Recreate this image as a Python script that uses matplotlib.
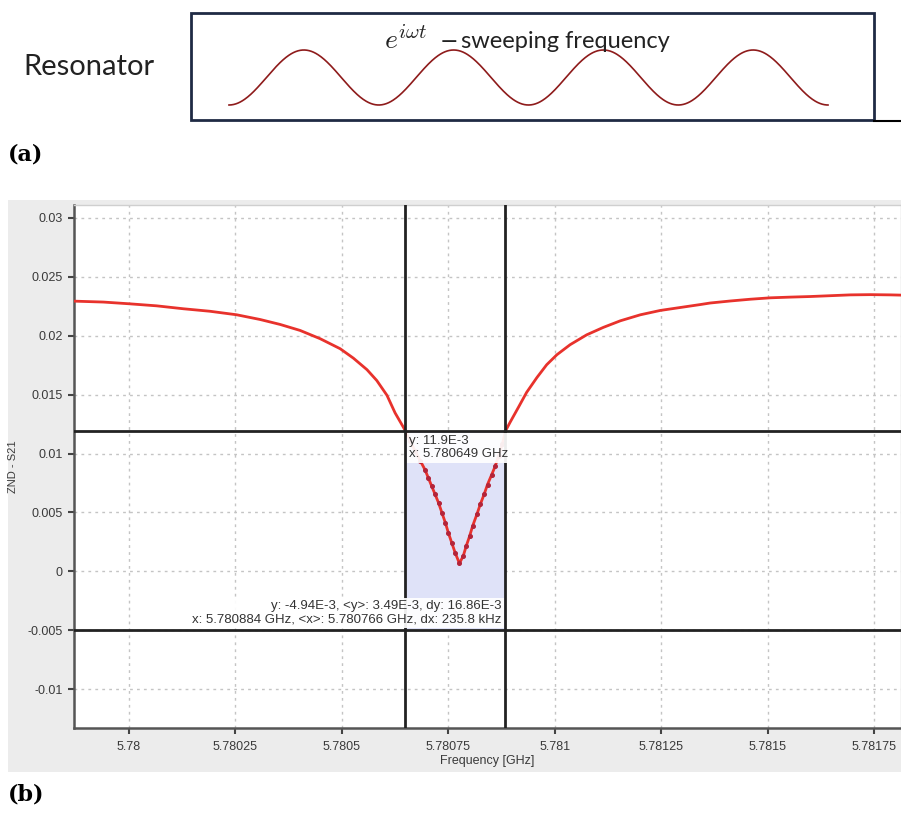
import numpy as np
import matplotlib
matplotlib.use("Agg")
import matplotlib.pyplot as plt
from matplotlib.patches import Rectangle
from matplotlib.lines import Line2D

# ---- data ----
freq_ghz = [5.779869, 5.779940, 5.780002, 5.780065, 5.780128, 5.780190, 5.780253,
            5.780308, 5.780355, 5.780402, 5.780449, 5.780496, 5.780527, 5.780559,
            5.780582, 5.780606, 5.780625, 5.780645, 5.780649,
            5.780660, 5.780672, 5.780684,
            5.780695, 5.780703, 5.780711, 5.780719, 5.780727, 5.780735, 5.780743,
            5.780750, 5.780758, 5.780766, 5.780776, 5.780785, 5.780792, 5.780800,
            5.780807, 5.780817, 5.780825, 5.780834, 5.780842, 5.780852, 5.780860,
            5.780868, 5.780877, 5.780884,
            5.780895, 5.780915, 5.780934, 5.780958, 5.780981, 5.781005, 5.781036,
            5.781075, 5.781114, 5.781154, 5.781201, 5.781248, 5.781295, 5.781342,
            5.781365, 5.781412, 5.781459, 5.781506, 5.781553, 5.781600, 5.781647,
            5.781694, 5.781741, 5.781788, 5.781812]
s21 = [0.02294, 0.02286, 0.02271, 0.02254, 0.02229, 0.02208, 0.02178,
       0.02138, 0.02096, 0.02045, 0.01975, 0.01890, 0.01810, 0.01712,
       0.01620, 0.01494, 0.01345, 0.01220, 0.01190,
       0.01110, 0.01020, 0.00940,
       0.00864, 0.00794, 0.00723, 0.00653, 0.00582, 0.00497, 0.00413,
       0.00328, 0.00243, 0.00158, 0.00068, 0.00130, 0.00214, 0.00299,
       0.00384, 0.00483, 0.00568, 0.00653, 0.00737, 0.00822, 0.00892,
       0.00980, 0.01080, 0.01190,
       0.01265, 0.01395, 0.01520, 0.01645, 0.01754, 0.01839, 0.01924,
       0.02008, 0.02071, 0.02127, 0.02178, 0.02215, 0.02240, 0.02265,
       0.02278, 0.02295, 0.02310, 0.02322, 0.02328, 0.02333, 0.02340,
       0.02347, 0.02349, 0.02347, 0.02345]

cursor_x = [5.780649, 5.780884]
cursor_y = [0.0119, -0.00494]

xticks = [5.78, 5.78025, 5.7805, 5.78075, 5.781, 5.78125, 5.7815, 5.78175]
xtick_labels = ["5.78", "5.78025", "5.7805", "5.78075", "5.781", "5.78125", "5.7815", "5.78175"]
yticks = [0.03, 0.025, 0.02, 0.015, 0.01, 0.005, 0, -0.005, -0.01]
ytick_labels = ["0.03", "0.025", "0.02", "0.015", "0.01", "0.005", "0", "-0.005", "-0.01"]

label_top = "y: 11.9E-3\nx: 5.780649 GHz"
label_bottom = ("y: -4.94E-3, <y>: 3.49E-3, dy: 16.86E-3\n"
                "x: 5.780884 GHz, <x>: 5.780766 GHz, dx: 235.8 kHz")

wave_cycles = 4

plt.rcParams["mathtext.fontset"] = "cm"

W, H = 901, 814
fig = plt.figure(figsize=(W / 100, H / 100), dpi=100)


def fx(px):
    return px / W


def fy(py):
    return 1 - py / H


# ---- (a) resonator sketch ----
fig.text(fx(23), fy(67), "Resonator", family="Lato", fontsize=21,
         va="center", ha="left", color="#222222")
fig.patches.append(Rectangle((fx(191), fy(120)), fx(874) - fx(191), fy(13) - fy(120),
                             transform=fig.transFigure, fill=False,
                             ec="#1f2a44", lw=2))
fig.add_artist(Line2D([fx(874), 1], [fy(121), fy(121)], color="black", lw=1.5))

wax = fig.add_axes([fx(229), fy(105), fx(828) - fx(229), fy(50) - fy(105)])
wax.axis("off")
t = np.linspace(0, 1, 800)
wax.plot(t, -np.cos(2 * np.pi * wave_cycles * t), color="#8e1b1b", lw=1.2, clip_on=False)
wax.set_xlim(0, 1)
wax.set_ylim(-1, 1)

# e^{i omega t} -sweeping frequency, built from pieces to match spacing
fig.text(fx(384), fy(48), r"$e$", fontsize=20, va="baseline", ha="left", color="#222222")
fig.text(fx(398), fy(38), r"$i\omega t$", fontsize=15, va="baseline", ha="left", color="#222222")
fig.text(fx(440), fy(48), "\u2212", family="DejaVu Sans", fontsize=16,
         va="baseline", ha="left", color="#222222")
fig.text(fx(461), fy(48), "sweeping frequency", family="Lato", fontsize=17,
         va="baseline", ha="left", color="#222222")

fig.text(fx(8), fy(155), "(a)", family="DejaVu Serif", weight="bold",
         fontsize=16, va="center", ha="left")
fig.text(fx(8), fy(795), "(b)", family="DejaVu Serif", weight="bold",
         fontsize=16, va="center", ha="left")

# ---- (b) VNA screenshot ----
fig.patches.append(Rectangle((fx(8), fy(772)), 1 - fx(8), fy(200) - fy(772),
                             transform=fig.transFigure, fc="#ececec", ec="none",
                             zorder=-10))

ax = fig.add_axes([fx(74), fy(728), 1 - fx(74), fy(205) - fy(728)])
ax.set_zorder(2)
ax.set_facecolor("white")
ax.set_xlim(5.779871, 5.781813)
ax.set_ylim(-0.0133, 0.0311)

ax.set_xticks(xticks)
ax.set_xticklabels(xtick_labels)
ax.set_yticks(yticks)
ax.set_yticklabels(ytick_labels)
ax.tick_params(direction="out", length=4, width=1.5, color="#444444",
               labelsize=9, labelcolor="#3a3a3a", pad=4)
ax.tick_params(axis="x", pad=5)
for lab in ax.get_xticklabels() + ax.get_yticklabels():
    lab.set_family("Liberation Sans")
ax.grid(True, color="#c4c4c4", linestyle=(0, (2, 3)), lw=1)
ax.set_axisbelow(True)

for side in ["left", "bottom"]:
    ax.spines[side].set_color("#555555")
    ax.spines[side].set_linewidth(1.8)
for side in ["top", "right"]:
    ax.spines[side].set_color("#cfcfcf")
    ax.spines[side].set_linewidth(1)

ax.set_xlabel("Frequency [GHz]", family="Liberation Sans", fontsize=9,
              color="#3a3a3a", labelpad=2)
ax.set_ylabel("ZND - S21", family="Liberation Sans", fontsize=8,
              color="#3a3a3a", labelpad=7)

# cursor region
ax.fill_between(cursor_x, cursor_y[1], cursor_y[0], color="#dfe2f8", zorder=1, lw=0)

in_window = [cursor_x[0] < f < cursor_x[1] for f in freq_ghz]
ax.plot(freq_ghz, s21, color="#e8322c", lw=2, zorder=3)
ax.plot(freq_ghz, s21, linestyle="none", marker="o", ms=2.6,
        markevery=in_window, color="#b3243a", zorder=3)

for xv in cursor_x:
    ax.axvline(xv, color="#222222", lw=2, zorder=4)
for yv in cursor_y:
    ax.axhline(yv, color="#222222", lw=2, zorder=4)

box_style = dict(boxstyle="square,pad=0.2", fc="white", ec="none", alpha=0.92)
ax.annotate(label_top, xy=(cursor_x[0], cursor_y[0]), xytext=(3, -3),
            textcoords="offset points", ha="left", va="top",
            family="Liberation Sans", fontsize=9.5, color="#333333",
            bbox=box_style, zorder=5, linespacing=1.1)
ax.annotate(label_bottom, xy=(cursor_x[1], cursor_y[1]), xytext=(-3, 3),
            textcoords="offset points", ha="right", va="bottom",
            multialignment="right", family="Liberation Sans", fontsize=9.5,
            color="#333333", bbox=box_style, zorder=5, linespacing=1.1)

fig.savefig("out.png", dpi=100)
